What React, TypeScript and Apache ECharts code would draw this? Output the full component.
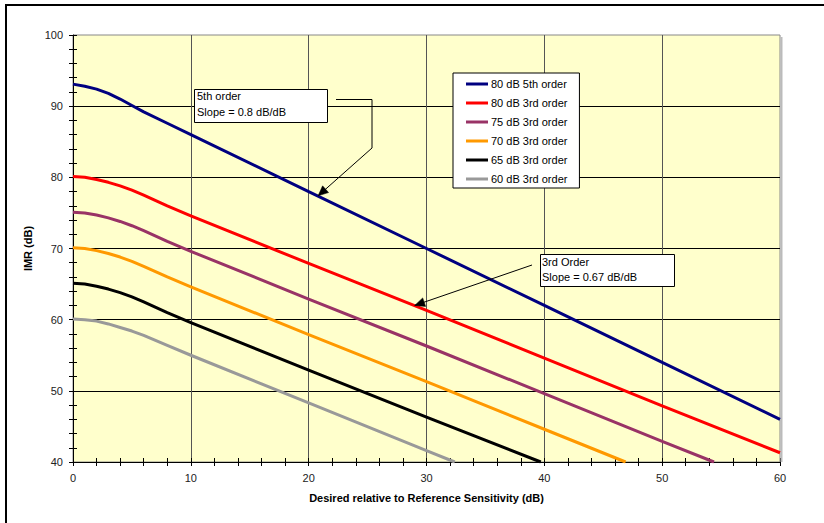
import React, { useEffect, useRef } from "react";
import * as echarts from "echarts";

// X values (dB) and IMR values (dB)
const x80_5th = [0, 1, 2, 3, 4, 5, 6, 8, 10, 20, 30, 40, 50, 60];
const imr80_5th = [93.1, 92.8, 92.4, 91.8, 91.0, 90.1, 89.2, 87.6, 86.0, 78.0, 70.0, 62.0, 54.0, 46.0];

const x80_3rd = [0, 1, 2, 3, 4, 5, 6, 8, 10, 20, 30, 40, 50, 60];
const imr80_3rd = [80.1, 80.0, 79.7, 79.3, 78.8, 78.2, 77.5, 76.0, 74.6, 67.9, 61.3, 54.6, 47.9, 41.3];

const x75_3rd = [0, 1, 2, 3, 4, 5, 6, 8, 10, 20, 30, 40, 50, 54.4];
const imr75_3rd = [75.1, 75.0, 74.7, 74.3, 73.8, 73.2, 72.5, 71.0, 69.6, 62.9, 56.3, 49.6, 42.9, 40.0];

const x70_3rd = [0, 1, 2, 3, 4, 5, 6, 8, 10, 20, 30, 40, 46.9];
const imr70_3rd = [70.1, 70.0, 69.7, 69.3, 68.8, 68.2, 67.5, 66.0, 64.6, 57.9, 51.3, 44.6, 40.0];

const x65_3rd = [0, 1, 2, 3, 4, 5, 6, 8, 10, 20, 30, 39.7];
const imr65_3rd = [65.1, 65.0, 64.7, 64.3, 63.8, 63.2, 62.5, 61.0, 59.6, 52.9, 46.3, 40.0];

const x60_3rd = [0, 1, 2, 3, 4, 5, 6, 8, 10, 20, 30, 32.4];
const imr60_3rd = [60.1, 60.0, 59.8, 59.4, 58.9, 58.4, 57.8, 56.4, 55.0, 48.3, 41.6, 40.0];

const seriesNames = [
  "80 dB 5th order",
  "80 dB 3rd order",
  "75 dB 3rd order",
  "70 dB 3rd order",
  "65 dB 3rd order",
  "60 dB 3rd order",
];
const seriesColors = ["#000080", "#FF0000", "#993366", "#FF9900", "#000000", "#999999"];
const seriesX = [x80_5th, x80_3rd, x75_3rd, x70_3rd, x65_3rd, x60_3rd];
const seriesY = [imr80_5th, imr80_3rd, imr75_3rd, imr70_3rd, imr65_3rd, imr60_3rd];

const xTitle = "Desired relative to Reference Sensitivity (dB)";
const yTitle = "IMR (dB)";
const note5th = "5th order\nSlope = 0.8 dB/dB";
const note3rd = "3rd Order\nSlope = 0.67 dB/dB";
// arrow tip positions (data coordinates)
const tip5th = [20.8, 77.4];
const tip3rd = [29.0, 62.0];

const FONT = '"Liberation Sans", Arial, sans-serif';

function arrowHead(tip: number[], from: number[]) {
  const dx = tip[0] - from[0];
  const dy = tip[1] - from[1];
  const len = Math.sqrt(dx * dx + dy * dy);
  const ux = dx / len;
  const uy = dy / len;
  const L = 10;
  const W = 4.5;
  return [
    [tip[0], tip[1]],
    [tip[0] - ux * L - uy * W, tip[1] - uy * L + ux * W],
    [tip[0] - ux * L + uy * W, tip[1] - uy * L - ux * W],
  ];
}

export default function App() {
  const ref = useRef<HTMLDivElement>(null);
  useEffect(() => {
    if (!ref.current) return;
    const chart = echarts.init(ref.current, undefined, { renderer: "svg" });
    const axisCommonX = {
      type: "value",
      min: 0,
      max: 60,
      interval: 10,
      position: "bottom",
    };
    const axisCommonY = {
      type: "value",
      min: 40,
      max: 100,
      interval: 10,
      position: "left",
    };
    chart.setOption({
      animation: false,
      textStyle: { fontFamily: FONT },
      grid: {
        left: 73,
        top: 35,
        right: 44,
        bottom: 61,
        show: true,
        backgroundColor: "#FFFFCC",
        borderColor: "#888888",
        borderWidth: 1,
      },
      legend: {
        show: true,
        orient: "vertical",
        left: 453,
        top: 73,
        data: seriesNames,
        icon: "rect",
        itemWidth: 22,
        itemHeight: 3,
        itemGap: 7,
        padding: [5, 12, 3, 13],
        backgroundColor: "#FFFFFF",
        borderColor: "#000000",
        borderWidth: 1,
        borderRadius: 0,
        textStyle: { fontSize: 11, color: "#000", fontFamily: FONT, lineHeight: 12, padding: [0, 0, 0, -2] },
      },
      xAxis: [
        {
          ...axisCommonX,
          name: xTitle,
          nameLocation: "middle",
          nameGap: 30,
          nameTextStyle: { fontSize: 11, fontWeight: "bold", color: "#000", fontFamily: FONT },
          axisLine: { show: true, lineStyle: { color: "#000", width: 1 } },
          axisTick: { show: true, inside: false, length: 4, lineStyle: { color: "#000" } },
          minorTick: { show: true, splitNumber: 5, length: 4, lineStyle: { color: "#000" } },
          axisLabel: { fontSize: 11, color: "#222", margin: 10, fontFamily: FONT },
          splitLine: { show: true, showMinLine: false, showMaxLine: false, lineStyle: { color: "#555", width: 1 } },
        },
        {
          ...axisCommonX,
          axisLine: { show: false },
          axisTick: { show: true, inside: true, length: 4, lineStyle: { color: "#000" } },
          minorTick: { show: true, splitNumber: 5, length: 4, lineStyle: { color: "#000" } },
          axisLabel: { show: false },
          splitLine: { show: false },
        },
      ],
      yAxis: [
        {
          ...axisCommonY,
          name: yTitle,
          nameLocation: "middle",
          nameGap: 36,
          nameTextStyle: { fontSize: 11, fontWeight: "bold", color: "#000", fontFamily: FONT },
          axisLine: { show: true, lineStyle: { color: "#000", width: 1 } },
          axisTick: { show: true, inside: false, length: 4, lineStyle: { color: "#000" } },
          minorTick: { show: true, splitNumber: 5, length: 4, lineStyle: { color: "#000" } },
          axisLabel: { fontSize: 11, color: "#222", margin: 10, fontFamily: FONT },
          splitLine: { show: true, showMinLine: false, showMaxLine: false, lineStyle: { color: "#000", width: 1 } },
        },
        {
          ...axisCommonY,
          axisLine: { show: false },
          axisTick: { show: true, inside: true, length: 4, lineStyle: { color: "#000" } },
          minorTick: { show: true, splitNumber: 5, length: 4, lineStyle: { color: "#000" } },
          axisLabel: { show: false },
          splitLine: { show: false },
        },
      ],
      series: seriesNames.map((name, i) => ({
        name,
        type: "line",
        xAxisIndex: 0,
        yAxisIndex: 0,
        data: seriesX[i].map((x, j) => [x, seriesY[i][j]]),
        showSymbol: false,
        symbol: "none",
        smooth: false,
        clip: true,
        color: seriesColors[i],
        lineStyle: { color: seriesColors[i], width: 3, join: "round" },
        z: 10 - i,
      })),
    });

    const t5 = chart.convertToPixel({ gridIndex: 0 }, tip5th) as number[];
    const t3 = chart.convertToPixel({ gridIndex: 0 }, tip3rd) as number[];
    const bend5 = [372, 148];
    const src3 = [532, 265];

    chart.setOption({
      graphic: [
        // outer frame (top and left edges)
        { type: "line", shape: { x1: 5, y1: 5, x2: 824, y2: 5 }, style: { stroke: "#000", lineWidth: 2 }, silent: true },
        { type: "line", shape: { x1: 6, y1: 5, x2: 6, y2: 523 }, style: { stroke: "#000", lineWidth: 2 }, silent: true },
        // plot right edge shadow
        { type: "line", shape: { x1: 781.5, y1: 37, x2: 781.5, y2: 462 }, style: { stroke: "#BBBBBB", lineWidth: 2 }, silent: true, z: 1 },
        // 5th order note
        {
          type: "rect",
          shape: { x: 194.5, y: 89.5, width: 133, height: 33 },
          style: { fill: "#FFFFFF", stroke: "#000", lineWidth: 1 },
          z: 100,
        },
        {
          type: "text",
          x: 197,
          y: 88,
          style: { text: note5th, font: `11px ${FONT}`, fill: "#000", lineHeight: 16 },
          z: 101,
        },
        {
          type: "polyline",
          shape: { points: [[336, 99.5], [bend5[0], 99.5], bend5, t5] },
          style: { stroke: "#000", lineWidth: 1, fill: "none" },
          z: 100,
        },
        {
          type: "polygon",
          shape: { points: arrowHead(t5, bend5) },
          style: { fill: "#000", stroke: "#000", lineWidth: 0.5 },
          z: 100,
        },
        // 3rd order note
        {
          type: "rect",
          shape: { x: 540.5, y: 254.5, width: 134, height: 32 },
          style: { fill: "#FFFFFF", stroke: "#000", lineWidth: 1 },
          z: 100,
        },
        {
          type: "text",
          x: 542,
          y: 254,
          style: { text: note3rd, font: `11px ${FONT}`, fill: "#000", lineHeight: 15 },
          z: 101,
        },
        {
          type: "line",
          shape: { x1: src3[0], y1: src3[1], x2: t3[0], y2: t3[1] },
          style: { stroke: "#000", lineWidth: 1 },
          z: 100,
        },
        {
          type: "polygon",
          shape: { points: arrowHead(t3, src3) },
          style: { fill: "#000", stroke: "#000", lineWidth: 0.5 },
          z: 100,
        },
      ],
    });

    return () => chart.dispose();
  }, []);
  return (
    <div
      ref={ref}
      style={{ position: "fixed", left: 0, top: 0, width: 824, height: 523, background: "#FFFFFF" }}
    />
  );
}
